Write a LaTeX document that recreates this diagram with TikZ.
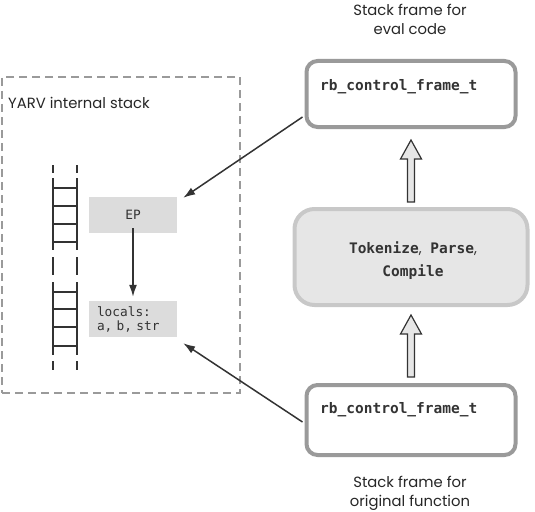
\documentclass[tikz,border=0pt]{standalone}
\usepackage{fontspec}
\setmainfont{Poppins}
\setmonofont{DejaVu Sans Mono}
\usetikzlibrary{arrows.meta,calc}
\definecolor{framegray}{HTML}{9A9A9A}
\definecolor{midfill}{HTML}{E6E6E6}
\definecolor{midborder}{HTML}{C8C8C8}
\definecolor{boxfill}{HTML}{DCDCDC}
\definecolor{ink}{HTML}{333333}
\definecolor{dashgray}{HTML}{9A9A9A}
\begin{document}
\begin{tikzpicture}[x=1pt,y=-1pt,
  frame/.style={draw=framegray, line width=4pt, rounded corners=11pt, fill=white, inner sep=0pt},
  midbox/.style={draw=midborder, line width=4pt, rounded corners=20pt, fill=midfill, inner sep=0pt},
  membox/.style={fill=boxfill, inner sep=0pt, text=ink, font=\fontsize{12.8}{14}\ttfamily},
  codefont/.style={font=\fontsize{14.5}{17}\ttfamily\bfseries, text=ink, inner sep=0pt},
  caption/.style={font=\fontsize{14.8}{19}\selectfont, text=black!85, inner sep=0pt},
  ptr/.style={draw=ink, line width=1.5pt, -{Latex[length=12pt,width=8pt]}},
  hollow/.style={draw=ink, line width=1.2pt, fill=midfill, line join=miter},
  rail/.style={draw=ink, line width=2.3pt},
  rung/.style={draw=ink, line width=2pt},
]
\useasboundingbox (0,0) rectangle (535,511);

% YARV internal stack area
\node[draw=dashgray, dash pattern=on 8pt off 5pt, line width=1.4pt, minimum width=238pt, minimum height=316pt, inner sep=0pt] (yarv) at (121,235) {};
\node[caption, anchor=base west] (yarvlabel) at (8,108) {YARV internal stack};

% ladder
\foreach \x in {53,77} {
  \draw[rail] (\x,165) -- (\x,173);
  \draw[rail] (\x,178) -- (\x,250);
  \draw[rail] (\x,257) -- (\x,275);
  \draw[rail] (\x,282) -- (\x,355);
  \draw[rail] (\x,361) -- (\x,370);
}
\foreach \y in {188,206,224,242,292,309,327,346} \draw[rung] (53,\y) -- (77,\y);

\node[membox, minimum width=88pt, minimum height=36pt] (ep) at (133,215) {EP};
\node[membox, minimum width=88pt, minimum height=36pt, text width=72pt, inner xsep=8pt, align=left] (loc) at (133,319) {locals:\\a, b, str};

% frames
\node[frame, minimum width=209pt, minimum height=66pt] (topf) at (411,94) {};
\node[codefont, anchor=base west] (toptext) at (320,90) {rb\_control\_frame\_t};
\node[frame, minimum width=209pt, minimum height=70pt] (botf) at (411,420) {};
\node[codefont, anchor=base west] (bottext) at (320,413) {rb\_control\_frame\_t};

\node[midbox, minimum width=233pt, minimum height=96pt] (mid) at (411,257) {};
\node[codefont, anchor=base] (midt1) at (413,253) {Tokenize{\rmfamily\mdseries,} Parse{\rmfamily\mdseries,}};
\node[codefont, anchor=base] (midt2) at (413,276) {Compile};

% captions
\node[caption, anchor=base] (capt1) at (410,16) {Stack frame for};
\node[caption, anchor=base] (capt2) at (410,35) {eval code};
\node[caption, anchor=base] (capb1) at (410,487) {Stack frame for};
\node[caption, anchor=base] (capb2) at (410,506) {original function};

% pointers
\draw[ptr] ([xshift=-2pt,yshift=-23pt]topf.west) -- ([xshift=6pt,yshift=-1pt]ep.north east);
\draw[ptr] ([xshift=-2pt,yshift=-2pt]botf.west) -- ([xshift=6pt,yshift=-6pt]loc.south east);
\draw[ptr] ([yshift=5pt]ep.south) -- ([yshift=4pt]loc.north);

% hollow arrows
\draw[hollow] ($(mid.north)+(-3.5,-5)$) -- ($(topf.south)+(-3.5,30)$) -- ($(topf.south)+(-10.5,30)$) -- ($(topf.south)+(0,11)$) -- ($(topf.south)+(10.5,30)$) -- ($(topf.south)+(3.5,30)$) -- ($(mid.north)+(3.5,-5)$) -- cycle;
\draw[hollow] ($(botf.north)+(-3.5,-6)$) -- ($(mid.south)+(-3.5,27)$) -- ($(mid.south)+(-10.5,27)$) -- ($(mid.south)+(0,8)$) -- ($(mid.south)+(10.5,27)$) -- ($(mid.south)+(3.5,27)$) -- ($(botf.north)+(3.5,-6)$) -- cycle;
\end{tikzpicture}
\end{document}
